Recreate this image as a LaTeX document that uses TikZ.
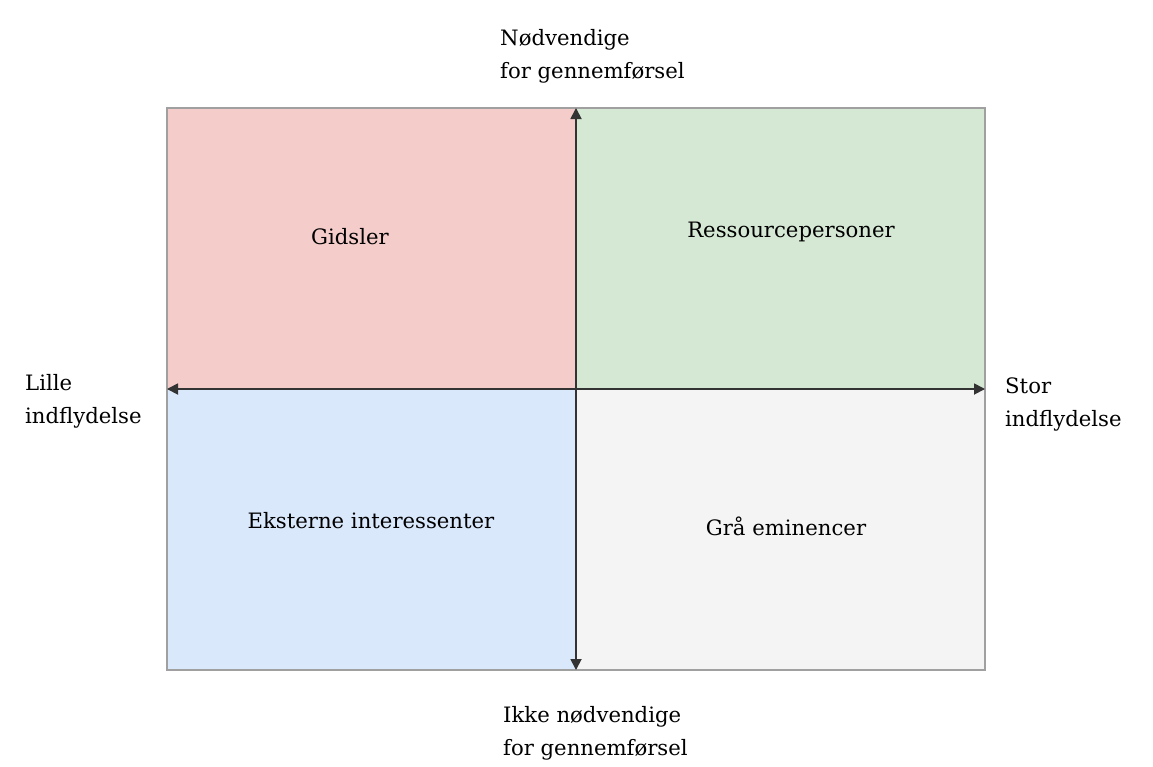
\documentclass[tikz,border=0pt]{standalone}
\usepackage{fontspec}
\setmainfont{DejaVu Serif}
\usetikzlibrary{arrows.meta}
\definecolor{gidsel}{HTML}{F4CCCA}
\definecolor{ressource}{HTML}{D5E8D4}
\definecolor{ekstern}{HTML}{DAE8FC}
\definecolor{graa}{HTML}{F4F4F4}
\definecolor{kant}{HTML}{A0A0A0}
\definecolor{akse}{HTML}{333333}
\tikzset{
    felt/.style={draw=kant, line width=1.5pt, minimum width=409pt, minimum height=281pt, inner sep=0pt, outer sep=0pt, anchor=north west},
    titel/.style={font=\fontsize{21.2}{33}\selectfont, inner sep=0pt},
    kanttekst/.style={titel, align=left, anchor=west},
    akse/.style={draw=akse, line width=1.8pt, {Triangle[length=11pt,width=11pt]}-{Triangle[length=11pt,width=11pt]}}
}
\begin{document}
\begin{tikzpicture}[x=1pt, y=-1pt]
        \useasboundingbox (0,0) rectangle (1153,766);
        % de fire felter
        \node[felt, fill=gidsel] (gidsler) at (167,108) {};
        \node[felt, fill=ressource] (ressource) at (576,108) {};
        \node[felt, fill=ekstern] (ekstern) at (167,389) {};
        \node[felt, fill=graa] (graa) at (576,389) {};
        \node[titel] (tgidsler) at (350,237) {Gidsler};
        \node[titel] (tressource) at (791,232) {Ressourcepersoner};
        \node[titel] (tekstern) at (371,521) {Eksterne interessenter};
        \node[titel] (tgraa) at (786,526) {Grå eminencer};
        % akser
        \draw[akse] (gidsler.south west) -- (graa.north east);
        \draw[akse] (gidsler.north east) -- (graa.south west);
        % tekst ved akserne
        \node[kanttekst] (top) at (500,56) {Nødvendige\\for gennemførsel};
        \node[kanttekst] (bund) at (503,733) {Ikke nødvendige\\for gennemførsel};
        \node[kanttekst] (venstre) at (25,401) {Lille\\indflydelse};
        \node[kanttekst] (hoejre) at (1005,404) {Stor\\indflydelse};
    \end{tikzpicture}
\end{document}
